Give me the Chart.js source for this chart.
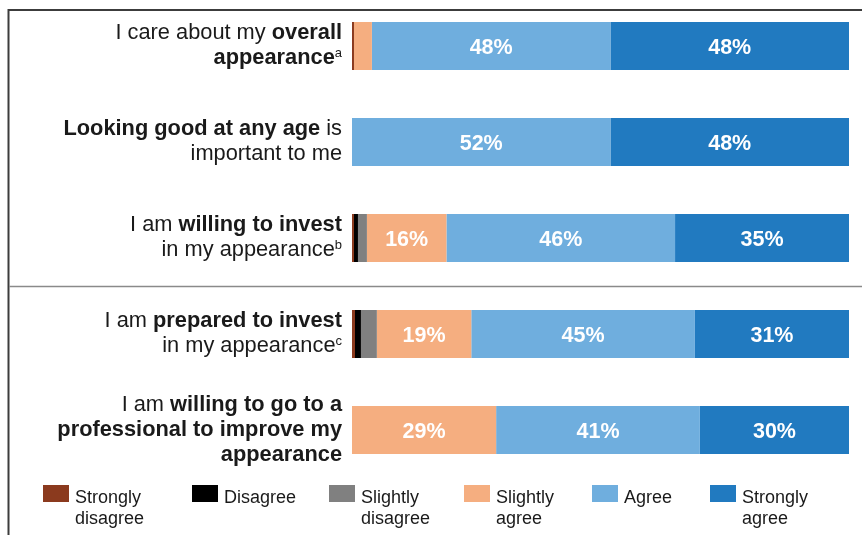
<!DOCTYPE html>
<html>
<head>
<meta charset="utf-8">
<script src="https://cdn.jsdelivr.net/npm/chart.js@4.4.1/dist/chart.umd.min.js"></script>
<style>
    html, body { margin: 0; padding: 0; background: #fff; overflow: hidden; }
    #wrap { position: relative; width: 862px; height: 535px; overflow: hidden; }
    #grafico { position: absolute; left: 0; top: -2px; }
</style>
</head>
<body>
<div id="wrap"><canvas id="grafico" width="862" height="537"></canvas></div>
<script>
// statements, one entry per line: [text, style] (0 normal, 1 bold, 2 superscript)
const statements = [
    [[["I care about my ", 0], ["overall", 1]], [["appearance", 1], ["a", 2]]],
    [[["Looking good at any age", 1], [" is", 0]], [["important to me", 0]]],
    [[["I am ", 0], ["willing to invest", 1]], [["in my appearance", 0], ["b", 2]]],
    [[["I am ", 0], ["prepared to invest", 1]], [["in my appearance", 0], ["c", 2]]],
    [[["I am ", 0], ["willing to go to a", 1]], [["professional to improve my", 1]], [["appearance", 1]]]
];

const respostas = ["Strongly disagree", "Disagree", "Slightly disagree", "Slightly agree", "Agree", "Strongly agree"];
const legendaLinhas = [["Strongly", "disagree"], ["Disagree"], ["Slightly", "disagree"], ["Slightly", "agree"], ["Agree"], ["Strongly", "agree"]];
const cores = ["#8b3a1e", "#000000", "#808080", "#f5ae80", "#6faede", "#217ac0"];

const stronglyDisagree = [0.4, 0, 0.4, 0.6, 0];
const disagree = [0, 0, 0.8, 1.2, 0];
const slightlyDisagree = [0, 0, 1.8, 3.2, 0];
const slightlyAgree = [3.6, 0, 16, 19, 29];
const agree = [48, 52, 46, 45, 41];
const stronglyAgree = [48, 48, 35, 31, 30];

const series = [stronglyDisagree, disagree, slightlyDisagree, slightlyAgree, agree, stronglyAgree];

const FONTE = '"Liberation Sans", Arial, sans-serif';
const legendaX = [43, 192, 329, 464, 592, 710];

const molduraPlugin = {
    id: "moldura",
    beforeDraw(chart) {
        const ctx = chart.ctx;
        const area = chart.chartArea;
        const y = chart.scales.y;
        ctx.save();
        // frame: top and left edge
        ctx.strokeStyle = "#3c3c3c";
        ctx.lineWidth = 2;
        ctx.beginPath();
        ctx.moveTo(8.5, chart.height);
        ctx.lineTo(8.5, area.top + 12);
        ctx.lineTo(chart.width, area.top + 12);
        ctx.stroke();
        // separator between the two groups of statements
        const sep = Math.round((y.getPixelForValue(2) + y.getPixelForValue(3)) / 2) + 0.5;
        ctx.strokeStyle = "#8a8a8a";
        ctx.lineWidth = 1.5;
        ctx.beginPath();
        ctx.moveTo(9, sep);
        ctx.lineTo(chart.width, sep);
        ctx.stroke();
        ctx.restore();
    }
};

const textosPlugin = {
    id: "textos",
    afterDatasetsDraw(chart) {
        const ctx = chart.ctx;
        const area = chart.chartArea;
        const yScale = chart.scales.y;
        ctx.save();

        // percentages inside the segments
        ctx.fillStyle = "#ffffff";
        ctx.font = "bold 21.5px " + FONTE;
        ctx.textAlign = "center";
        ctx.textBaseline = "alphabetic";
        chart.data.datasets.forEach((ds, di) => {
            chart.getDatasetMeta(di).data.forEach((bar, i) => {
                const v = ds.data[i];
                if (v < 10) return;
                ctx.fillText(v + "%", (bar.x + bar.base) / 2, bar.y + 8);
            });
        });

        // statement labels, right aligned next to the bars
        ctx.fillStyle = "#1a1a1a";
        ctx.textAlign = "left";
        const direita = area.left - 10;
        const fonteDe = (s) => s === 1 ? "bold 21.8px " + FONTE : s === 2 ? "13px " + FONTE : "21.8px " + FONTE;
        statements.forEach((linhas, i) => {
            const centro = yScale.getPixelForValue(i) - 2;
            linhas.forEach((partes, li) => {
                const base = centro + 7.7 + (li - (linhas.length - 1) / 2) * 25;
                let largura = 0;
                partes.forEach(([t, s]) => { ctx.font = fonteDe(s); largura += ctx.measureText(t).width; });
                let x = direita - largura;
                partes.forEach(([t, s]) => {
                    ctx.font = fonteDe(s);
                    ctx.fillText(t, x, s === 2 ? base - 7 : base);
                    x += ctx.measureText(t).width;
                });
            });
        });

        // legend
        const topo = area.bottom + 7;
        ctx.font = "18px " + FONTE;
        respostas.forEach((r, i) => {
            ctx.fillStyle = cores[i];
            ctx.fillRect(legendaX[i], topo, 26, 17);
            ctx.fillStyle = "#1a1a1a";
            legendaLinhas[i].forEach((t, li) => {
                ctx.fillText(t, legendaX[i] + 32, topo + 18 + li * 21);
            });
        });
        ctx.restore();
    }
};

new Chart(document.getElementById("grafico"), {
    type: "bar",
    data: {
        labels: statements.map((s, i) => "s" + i),
        datasets: respostas.map((r, i) => ({
            label: r,
            data: series[i],
            backgroundColor: cores[i],
            borderWidth: 0,
            barPercentage: 1,
            categoryPercentage: 0.5
        }))
    },
    options: {
        indexAxis: "y",
        responsive: false,
        animation: false,
        devicePixelRatio: 1,
        layout: { padding: { left: 352, right: 13, top: 0, bottom: 57 } },
        scales: {
            x: { stacked: true, min: 0, max: 100, display: false },
            y: { stacked: true, display: false }
        },
        plugins: {
            legend: { display: false },
            tooltip: { enabled: false }
        }
    },
    plugins: [molduraPlugin, textosPlugin]
});
</script>
</body>
</html>
